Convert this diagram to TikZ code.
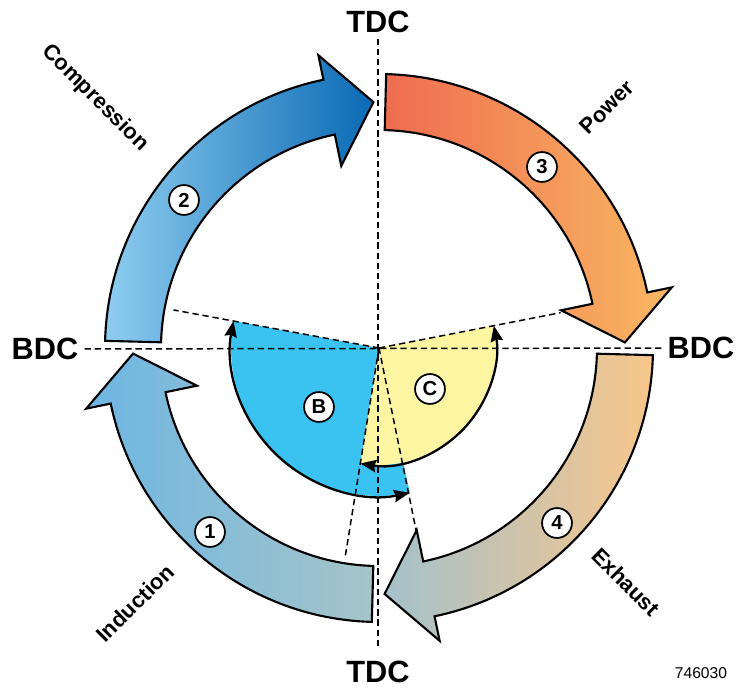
\documentclass[tikz,border=0pt]{standalone}
\usepackage{fontspec}
\setmainfont{Liberation Sans}
\usetikzlibrary{arrows.meta}
\definecolor{indA}{RGB}{109,182,228}
\definecolor{indB}{RGB}{166,196,200}
\definecolor{cmpA}{RGB}{142,205,240}
\definecolor{cmpB}{RGB}{10,106,180}
\definecolor{powA}{RGB}{239,108,80}
\definecolor{powB}{RGB}{249,184,98}
\definecolor{exhA}{RGB}{165,193,203}
\definecolor{exhB}{RGB}{248,198,138}
\definecolor{sectB}{RGB}{58,195,241}
\definecolor{sectC}{RGB}{253,245,162}

\begin{document}
\begin{tikzpicture}[x=0.02cm,y=0.02cm,
  outline/.style={draw=black,line width=1.2pt,line join=miter},
  guide/.style={black,line width=0.85pt,dash pattern=on 3.6pt off 2.2pt},
  num/.style={circle,draw=black,fill=white,line width=1pt,inner sep=0pt,minimum size=17pt,font=\bfseries\fontsize{11.5}{11.5}\selectfont},
  phase/.style={font=\bfseries\fontsize{12.5}{12.5}\selectfont},
  dead/.style={font=\bfseries\fontsize{17.5}{17.5}\selectfont},
  sweep/.style={line width=1.3pt,{Stealth[length=9pt,width=7pt,inset=1pt]}-{Stealth[length=9pt,width=7pt,inset=1pt]}}]
  \useasboundingbox (-379,-339) rectangle (358,348);
  \coordinate (o) at (0,0);
  % dead centre labels
  \node[dead] (tdcT) at (-1,326.5) {TDC};
  \node[dead] (tdcB) at (-1,-324) {TDC};
  \node[dead] (bdcL) at (-334,-1) {BDC};
  \node[dead] (bdcR) at (322,0) {BDC};
  % sectors B and C
  \fill[sectB] (o) -- (169.5:148) arc[start angle=169.5,end angle=282,radius=148] -- cycle;
  \fill[sectC] (o) -- (260.8:117) arc[start angle=260.8,end angle=371,radius=117] -- cycle;
  % guide lines
  \coordinate (gB) at (169.5:209);
  \coordinate (gC) at (11:185);
  \coordinate (gL) at (260.8:212);
  \coordinate (gR) at (281.5:191);
  \draw[guide] (bdcL) -- (bdcR);
  \draw[guide,shorten >=5pt] (tdcT) -- (tdcB);
  \draw[guide] (o) -- (gB);
  \draw[guide] (o) -- (gC);
  \draw[guide] (o) -- (gL);
  \draw[guide] (o) -- (gR);
  \draw[sweep] (169.5:148) arc[start angle=169.5,end angle=282,radius=148];
  \draw[sweep] (260.8:117) arc[start angle=260.8,end angle=371,radius=117];
  % Induction
  \draw[outline,left color=indA,right color=indB] (268.5:274) arc[start angle=268.5,end angle=191.7,radius=274]
    -- (191.7:299) -- (181.3:246) -- (191.7:186) -- (191.7:218) arc[start angle=191.7,end angle=268.5,radius=218] -- cycle;
  % Compression
  \draw[outline,left color=cmpA,right color=cmpB] (178.5:274) arc[start angle=178.5,end angle=101.7,radius=274]
    -- (101.7:299) -- (91.3:246) -- (101.7:186) -- (101.7:218) arc[start angle=101.7,end angle=178.5,radius=218] -- cycle;
  % Power
  \draw[outline,left color=powA,right color=powB] (88.5:274) arc[start angle=88.5,end angle=11.7,radius=274]
    -- (11.7:299) -- (1.3:246) -- (11.7:186) -- (11.7:218) arc[start angle=11.7,end angle=88.5,radius=218] -- cycle;
  % Exhaust
  \draw[outline,left color=exhA,right color=exhB] (-1.5:274) arc[start angle=-1.5,end angle=-78.3,radius=274]
    -- (-78.3:299) -- (-88.7:246) -- (-78.3:186) -- (-78.3:218) arc[start angle=-78.3,end angle=-1.5,radius=218] -- cycle;
  % stroke numbers
  \node[num] (n1) at (-169,-184) {1};
  \node[num] (n2) at (-195,148) {2};
  \node[num] (n3) at (163,181) {3};
  \node[num] (n4) at (178,-175) {4};
  \node[num] (secB) at (-60,-59) {B};
  \node[num] (secC) at (51,-41) {C};
  % stroke names
  \node[phase,rotate=-45] (cmp) at (-284,250) {Compression};
  \node[phase,rotate=45] (pow) at (228,241) {Power};
  \node[phase,rotate=-45] (exh) at (247,-234) {Exhaust};
  \node[phase,rotate=45] (ind) at (-244,-255) {Induction};
  \node[font=\fontsize{8.9}{8.9}\selectfont] (fig) at (322,-325) {746030};
\end{tikzpicture}
\end{document}
